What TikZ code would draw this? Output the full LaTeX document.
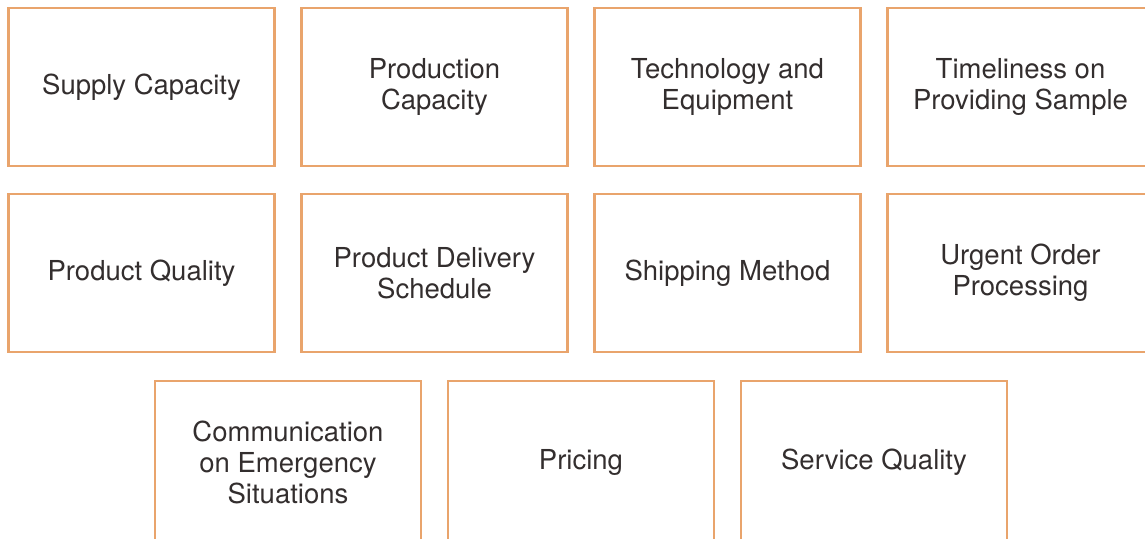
\documentclass[tikz,border=0pt]{standalone}
\usepackage{fontspec}
\setmainfont{TeX Gyre Heros}
\usetikzlibrary{positioning}
\definecolor{boxorange}{HTML}{E9A46C}
\definecolor{textgray}{HTML}{332E2E}

\begin{document}
\begin{tikzpicture}[x=1pt,y=-1pt,
  font=\fontsize{27.5}{31}\selectfont,
  box/.style={draw=boxorange,line width=2.4pt,outer sep=0pt,
    minimum width=266pt,minimum height=158pt,align=center,text=textgray}]
\useasboundingbox (0,0) rectangle (1145,538);
\clip (0,0) rectangle (1145,538);

%% top row
\foreach \name/\x/\txt in {supply/141.5/Supply Capacity,
  production/434.5/Production\\Capacity,
  technology/727.5/Technology and\\Equipment,
  sample/1020.5/Timeliness on\\Providing Sample}
\node[box](\name)at(\x,87){\txt};

%% middle row, under the top one
\node[box,below=28pt of supply](quality){Product Quality};
\node[box,below=28pt of production](delivery){Product Delivery\\Schedule};
\node[box,below=28pt of technology](shipping){Shipping Method};
\node[box,below=28pt of sample](urgent){Urgent Order\\Processing};

%% bottom row, runs past the lower edge
\node[box,minimum height=162pt](emergency)at(288,462){Communication\\on Emergency\\Situations};
\node[box,minimum height=162pt,right=27pt of emergency](pricing){Pricing};
\node[box,minimum height=162pt,right=27pt of pricing](service){Service Quality};
\end{tikzpicture}
\end{document}
